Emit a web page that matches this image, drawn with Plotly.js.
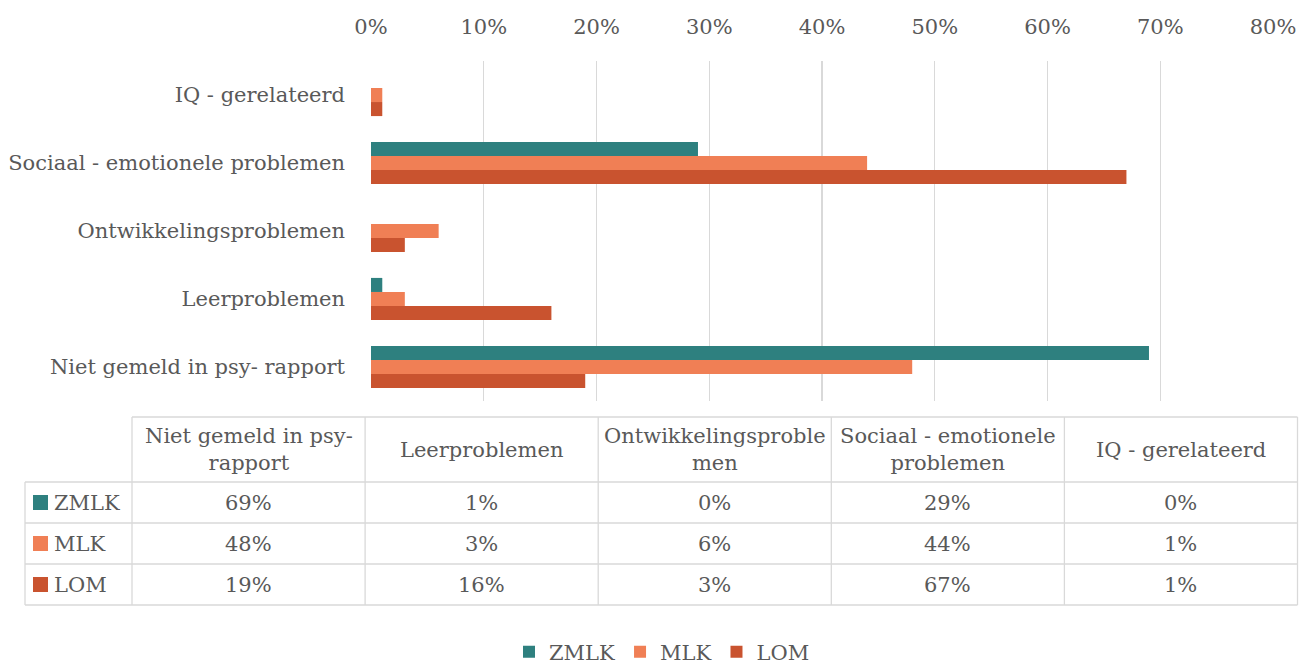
<!DOCTYPE html>
<html><head><meta charset="utf-8">
<script src="https://cdn.plot.ly/plotly-3.0.1.min.js"></script>
<style>html,body{margin:0;padding:0;background:#fff}</style>
</head><body><div id="chart" style="width:1300px;height:668px"></div>
<script>
// ---- data ----
const categories = ["IQ - gerelateerd", "Sociaal - emotionele problemen", "Ontwikkelingsproblemen", "Leerproblemen", "Niet gemeld in psy- rapport"];
const seriesNames = ["ZMLK", "MLK", "LOM"];
const zmlkValues = [0, 29, 0, 1, 69];
const mlkValues  = [1, 44, 6, 3, 48];
const lomValues  = [1, 67, 3, 16, 19];
const tableCategories = ["Niet gemeld in psy- rapport", "Leerproblemen", "Ontwikkelingsproblemen", "Sociaal - emotionele problemen", "IQ - gerelateerd"];
const tableHeaderLabels = ["Niet gemeld in psy-<br>rapport", "Leerproblemen", "Ontwikkelingsproble<br>men", "Sociaal - emotionele<br>problemen", "IQ - gerelateerd"];
const xTickValues = [0, 10, 20, 30, 40, 50, 60, 70, 80];
const xTickLabels = ["0%", "10%", "20%", "30%", "40%", "50%", "60%", "70%", "80%"];

// ---- styling ----
const colors = ["#2E807F", "#F07F55", "#C9532F"];
const FONT = "DejaVu Serif";
const TXT = "#595959";
const GRID = "#D9D9D9";
const FS = 21;
const W = 1300, H = 668;
const L = 371, R = 1273, T = 61, B = 401;
const px = x => (x - L) / (R - L);
const py = y => (B - y) / (B - T);

const seriesValues = [zmlkValues, mlkValues, lomValues];
const traces = seriesNames.map((name, i) => ({
  type: "bar", orientation: "h", name: name,
  y: categories, x: seriesValues[i],
  marker: {color: colors[i]}, hoverinfo: "skip"
}));

// ---- table geometry ----
const colEdges = [132, 365.1, 598.2, 831.3, 1064.4, 1297.5];
const rowEdges = [417, 482, 523, 564, 605];
const labelLeft = 25;
const shapes = [];
const line = (x0, y0, x1, y1) => shapes.push({type: "line", xref: "paper", yref: "paper",
  x0: px(x0), y0: py(y0), x1: px(x1), y1: py(y1), line: {color: GRID, width: 1.3}});
line(colEdges[0], rowEdges[0], colEdges[5], rowEdges[0]);
for (let r = 1; r < rowEdges.length; r++) line(labelLeft, rowEdges[r], colEdges[5], rowEdges[r]);
line(labelLeft, rowEdges[1], labelLeft, rowEdges[4]);
colEdges.forEach(c => line(c, rowEdges[0], c, rowEdges[4]));

const annotations = [];
const ann = (text, x, y, xanchor) => annotations.push({text: text, xref: "paper", yref: "paper",
  x: px(x), y: py(y), xanchor: xanchor || "center", yanchor: "middle", showarrow: false,
  font: {family: FONT, size: FS, color: TXT}});

tableHeaderLabels.forEach((h, c) => ann(h, (colEdges[c] + colEdges[c + 1]) / 2, (rowEdges[0] + rowEdges[1]) / 2));
seriesNames.forEach((name, s) => {
  const yc = (rowEdges[s + 1] + rowEdges[s + 2]) / 2;
  shapes.push({type: "rect", xref: "paper", yref: "paper",
    x0: px(33), x1: px(48), y0: py(yc - 7.5), y1: py(yc + 7.5),
    fillcolor: colors[s], line: {width: 0}});
  ann(name, 52, yc, "left");
  tableCategories.forEach((cat, c) => {
    const v = seriesValues[s][categories.indexOf(cat)];
    ann(v + "%", (colEdges[c] + colEdges[c + 1]) / 2, yc);
  });
});

const layout = {
  width: W, height: H,
  margin: {l: L, r: W - R, t: T, b: H - B, pad: 0, autoexpand: false},
  paper_bgcolor: "#fff", plot_bgcolor: "#fff",
  font: {family: FONT, size: FS, color: TXT},
  barmode: "group", bargap: 0.38, bargroupgap: 0,
  showlegend: true,
  legend: {orientation: "h", x: px(662), xanchor: "center", y: py(652), yanchor: "middle",
    font: {family: FONT, size: FS, color: TXT}, itemwidth: 30, traceorder: "normal"},
  xaxis: {side: "top", range: [0, 80], tickvals: xTickValues, ticktext: xTickLabels,
    showgrid: true, gridcolor: GRID, gridwidth: 1.3, zeroline: false, showline: false,
    ticks: "", ticklabelstandoff: 22, fixedrange: true},
  yaxis: {autorange: "reversed", type: "category", showgrid: false, zeroline: false, showline: false,
    ticks: "", ticklabelstandoff: 25, fixedrange: true},
  shapes: shapes, annotations: annotations
};
Plotly.newPlot("chart", traces, layout, {displayModeBar: false, staticPlot: true});
</script></body></html>
